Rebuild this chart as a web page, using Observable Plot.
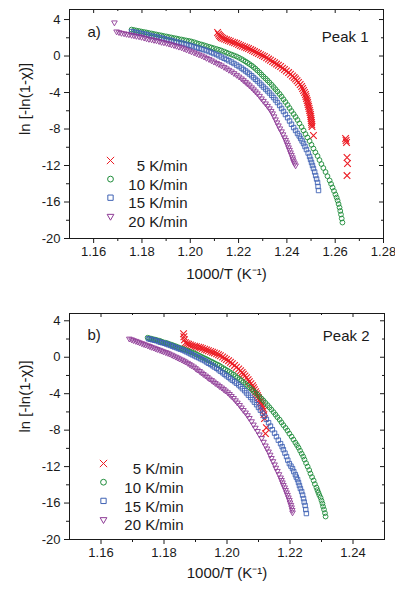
<!DOCTYPE html>
<html><head><meta charset="utf-8">
<script src="https://cdn.jsdelivr.net/npm/d3@7"></script>
<script src="https://cdn.jsdelivr.net/npm/@observablehq/plot@0.6"></script>
<style>
body{margin:0;background:#fff;}
#chart{width:395px;}
#chart svg{display:block;}
</style></head><body><div id="chart"></div>
<script>
// ---------- labels ----------
const rates = ["5 K/min", "10 K/min", "15 K/min", "20 K/min"];
const xLabel = "1000/T (K\u207B\u00B9)";
const yLabel = "ln [-ln(1-\u03C7)]";
const tagsA = ["a)", "Peak 1"];
const tagsB = ["b)", "Peak 2"];

// ---------- ticks ----------
const yMajor = [4, 0, -4, -8, -12, -16, -20];
const yMinor = [2, -2, -6, -10, -14, -18];
const xMajorA = [1.16, 1.18, 1.20, 1.22, 1.24, 1.26, 1.28];
const xMinorA = [1.17, 1.19, 1.21, 1.23, 1.25, 1.27];
const xMajorB = [1.16, 1.18, 1.20, 1.22, 1.24];
const xMinorB = [1.17, 1.19, 1.21, 1.23];

// ---------- panel a (Peak 1) ----------
const a5x = [1.2113,1.2117,1.2121,1.2125,1.2129,1.2135,1.2142,1.2150,1.2158,1.2166,
  1.2175,1.2183,1.2192,1.2200,1.2208,1.2216,1.2225,1.2233,1.2241,1.2250,
  1.2258,1.2266,1.2274,1.2282,1.2291,1.2299,1.2307,1.2316,1.2324,1.2332,
  1.2341,1.2349,1.2357,1.2365,1.2374,1.2382,1.2390,1.2398,1.2407,1.2415,
  1.2423,1.2430,1.2436,1.2442,1.2448,1.2455,1.2461,1.2465,1.2469,1.2473,
  1.2477,1.2479,1.2481,1.2484,1.2486,1.2488,1.2490,1.2492,1.2494,1.2496,
  1.2498,1.2499,1.2500,1.2501,1.2502,1.2503,1.2504,1.2510,
  1.2643,1.2645,1.2647,1.2649,1.2651,1.2649];
const a5y = [2.58,2.40,2.25,2.14,2.03,1.95,1.86,1.78,1.70,1.62,
  1.53,1.45,1.37,1.26,1.15,1.07,0.99,0.91,0.82,0.71,
  0.60,0.49,0.38,0.27,0.16,0.05,-0.05,-0.19,-0.33,-0.46,
  -0.60,-0.74,-0.88,-1.01,-1.15,-1.32,-1.48,-1.64,-1.81,-2.00,
  -2.19,-2.36,-2.52,-2.71,-2.90,-3.12,-3.34,-3.56,-3.78,-4.00,
  -4.22,-4.44,-4.66,-4.88,-5.10,-5.32,-5.53,-5.75,-5.97,-6.19,
  -6.41,-6.63,-6.85,-7.07,-7.29,-7.51,-7.73,-8.71,
  -9.04,-9.26,-9.48,-11.12,-11.78,-13.10];

const a10x = [1.1757,1.1767,1.1777,1.1788,1.1798,1.1809,1.1819,1.1829,1.1840,1.1850,
  1.1860,1.1871,1.1881,1.1891,1.1902,1.1912,1.1922,1.1933,1.1943,1.1953,
  1.1964,1.1974,1.1984,1.1995,1.2005,1.2016,1.2026,1.2036,1.2047,1.2057,
  1.2067,1.2078,1.2088,1.2098,1.2109,1.2119,1.2129,1.2140,1.2150,1.2160,
  1.2171,1.2181,1.2192,1.2202,1.2212,1.2220,1.2229,1.2237,1.2245,1.2254,
  1.2262,1.2270,1.2278,1.2287,1.2295,1.2303,1.2312,1.2320,1.2328,1.2337,
  1.2345,1.2353,1.2361,1.2370,1.2378,1.2386,1.2394,1.2403,1.2411,1.2419,
  1.2428,1.2436,1.2444,1.2452,1.2461,1.2469,1.2477,1.2485,1.2494,1.2502,
  1.2510,1.2518,1.2527,1.2535,1.2543,1.2551,1.2560,1.2568,1.2577,1.2583,
  1.2589,1.2595,1.2601,1.2606,1.2610,1.2614,1.2618,1.2621,1.2624,1.2627,1.2630];
const a10y = [2.90,2.85,2.79,2.74,2.68,2.63,2.58,2.52,2.47,2.41,
  2.36,2.30,2.25,2.19,2.14,2.08,2.03,1.97,1.92,1.86,
  1.81,1.75,1.70,1.65,1.59,1.51,1.42,1.34,1.26,1.18,
  1.10,1.01,0.93,0.85,0.77,0.69,0.60,0.49,0.38,0.27,
  0.16,0.06,-0.05,-0.19,-0.33,-0.46,-0.60,-0.74,-0.88,-1.04,
  -1.21,-1.39,-1.59,-1.80,-2.03,-2.25,-2.47,-2.68,-2.90,-3.15,
  -3.40,-3.64,-3.89,-4.16,-4.44,-4.74,-5.04,-5.37,-5.70,-6.03,
  -6.36,-6.68,-7.01,-7.39,-7.78,-8.16,-8.55,-8.93,-9.32,-9.73,
  -10.14,-10.55,-10.96,-11.40,-11.84,-12.27,-12.71,-13.17,-13.64,-14.02,
  -14.41,-14.79,-15.18,-15.51,-15.84,-16.22,-16.60,-16.98,-17.37,-17.81,-18.25];

const a15x = [1.1757,1.1767,1.1777,1.1788,1.1798,1.1809,1.1819,1.1829,1.1840,1.1850,
  1.1860,1.1871,1.1881,1.1891,1.1902,1.1912,1.1922,1.1933,1.1943,1.1953,
  1.1964,1.1974,1.1984,1.1995,1.2005,1.2016,1.2026,1.2036,1.2047,1.2057,
  1.2067,1.2078,1.2088,1.2098,1.2109,1.2119,1.2129,1.2140,1.2150,1.2160,
  1.2171,1.2181,1.2192,1.2202,1.2212,1.2220,1.2229,1.2237,1.2245,1.2254,
  1.2262,1.2270,1.2278,1.2287,1.2295,1.2303,1.2312,1.2320,1.2328,1.2337,
  1.2345,1.2353,1.2361,1.2370,1.2378,1.2386,1.2394,1.2403,1.2411,1.2419,
  1.2428,1.2436,1.2444,1.2451,1.2457,1.2463,1.2469,1.2475,1.2481,1.2488,
  1.2494,1.2498,1.2502,1.2506,1.2510,1.2515,1.2519,1.2523,1.2527,1.2529,1.2531];
const a15y = [2.68,2.63,2.58,2.52,2.47,2.41,2.36,2.28,2.19,2.14,
  2.08,2.03,1.97,1.89,1.81,1.75,1.70,1.62,1.53,1.48,
  1.42,1.34,1.26,1.18,1.10,1.01,0.93,0.85,0.77,0.69,
  0.60,0.49,0.38,0.27,0.16,0.03,-0.11,-0.25,-0.38,-0.52,
  -0.66,-0.82,-0.99,-1.15,-1.32,-1.48,-1.64,-1.80,-1.97,-2.16,
  -2.36,-2.55,-2.74,-2.96,-3.18,-3.40,-3.62,-3.83,-4.05,-4.30,
  -4.55,-4.82,-5.10,-5.42,-5.75,-6.08,-6.41,-6.76,-7.12,-7.48,
  -7.84,-8.16,-8.49,-8.76,-9.04,-9.31,-9.59,-9.92,-10.25,-10.63,
  -11.01,-11.34,-11.67,-12.00,-12.33,-12.71,-13.10,-13.48,-13.86,-14.30,-14.74];

const a20x = [1.1686,
  1.1695,1.1705,1.1715,1.1726,1.1736,1.1746,1.1757,1.1767,1.1777,1.1788,
  1.1798,1.1809,1.1819,1.1829,1.1840,1.1850,1.1860,1.1871,1.1881,1.1891,
  1.1902,1.1912,1.1922,1.1933,1.1943,1.1953,1.1964,1.1974,1.1984,1.1995,
  1.2005,1.2016,1.2026,1.2036,1.2047,1.2057,1.2067,1.2078,1.2088,1.2098,
  1.2109,1.2119,1.2129,1.2140,1.2150,1.2160,1.2171,1.2181,1.2192,1.2202,
  1.2212,1.2220,1.2229,1.2237,1.2245,1.2254,1.2262,1.2270,1.2278,1.2287,
  1.2295,1.2303,1.2312,1.2320,1.2328,1.2335,1.2341,1.2347,1.2353,1.2359,
  1.2365,1.2371,1.2378,1.2384,1.2390,1.2395,1.2399,1.2403,1.2407,1.2411,
  1.2415,1.2419,1.2423,1.2425,1.2428,1.2432,1.2436];
const a20y = [3.67,
  2.68,2.60,2.52,2.47,2.41,2.36,2.30,2.25,2.19,2.14,
  2.08,2.00,1.92,1.86,1.81,1.75,1.70,1.62,1.53,1.48,
  1.42,1.34,1.26,1.18,1.10,1.01,0.93,0.82,0.71,0.60,
  0.49,0.38,0.27,0.16,0.05,-0.08,-0.22,-0.35,-0.49,-0.63,
  -0.77,-0.90,-1.04,-1.21,-1.37,-1.53,-1.70,-1.89,-2.08,-2.27,
  -2.47,-2.66,-2.85,-3.04,-3.23,-3.45,-3.67,-3.89,-4.11,-4.38,
  -4.66,-4.93,-5.21,-5.48,-5.75,-6.03,-6.30,-6.63,-6.96,-7.29,
  -7.62,-7.95,-8.27,-8.60,-8.93,-9.21,-9.48,-9.75,-10.03,-10.30,
  -10.58,-10.85,-11.12,-11.34,-11.56,-11.78,-12.00];

// ---------- panel b (Peak 2) ----------
const b5x = [1.1862,1.1863,1.1865,1.1868,1.1873,1.1878,1.1884,1.1890,1.1897,1.1903,
  1.1910,1.1916,1.1922,1.1929,1.1935,1.1941,1.1948,1.1954,1.1960,1.1967,
  1.1973,1.1979,1.1986,1.1992,1.1998,1.2005,1.2011,1.2017,1.2024,1.2030,
  1.2037,1.2043,1.2048,1.2052,1.2057,1.2062,1.2067,1.2071,1.2076,1.2081,
  1.2084,1.2087,1.2091,1.2094,1.2097,1.2100,1.2103,1.2106,1.2109,1.2111,
  1.2114,1.2116,1.2117,1.2119,1.2125,1.2122];
const b5y = [2.58,2.25,1.92,1.59,1.50,1.42,1.34,1.26,1.21,1.15,
  1.10,1.04,0.96,0.88,0.80,0.71,0.63,0.55,0.47,0.38,
  0.27,0.16,0.03,-0.11,-0.25,-0.38,-0.55,-0.71,-0.90,-1.10,
  -1.29,-1.48,-1.67,-1.86,-2.05,-2.25,-2.46,-2.68,-2.90,-3.12,
  -3.34,-3.56,-3.78,-4.00,-4.22,-4.44,-4.66,-4.88,-5.10,-5.32,
  -5.59,-5.86,-6.30,-6.74,-7.73,-8.38];

const b10x = [1.1748,1.1754,1.1760,1.1767,1.1773,1.1779,1.1786,1.1792,1.1798,1.1805,
  1.1811,1.1817,1.1824,1.1830,1.1837,1.1843,1.1849,1.1856,1.1862,1.1868,
  1.1875,1.1881,1.1887,1.1894,1.1900,1.1906,1.1913,1.1919,1.1925,1.1932,
  1.1938,1.1944,1.1951,1.1957,1.1963,1.1970,1.1976,1.1982,1.1989,1.1995,
  1.2002,1.2008,1.2014,1.2021,1.2027,1.2033,1.2040,1.2046,1.2052,1.2059,
  1.2065,1.2071,1.2078,1.2084,1.2090,1.2097,1.2103,1.2110,1.2116,1.2122,
  1.2129,1.2135,1.2141,1.2148,1.2154,1.2160,1.2167,1.2173,1.2179,1.2186,
  1.2192,1.2198,1.2205,1.2211,1.2217,1.2222,1.2227,1.2232,1.2237,1.2242,
  1.2246,1.2251,1.2256,1.2261,1.2265,1.2270,1.2275,1.2279,1.2284,1.2287,
  1.2290,1.2293,1.2297,1.2300,1.2303,1.2305,1.2308,1.2311,1.2313];
const b10y = [2.14,2.08,2.03,1.97,1.92,1.86,1.81,1.72,1.64,1.59,
  1.53,1.45,1.37,1.29,1.21,1.12,1.04,0.96,0.88,0.80,
  0.71,0.63,0.55,0.47,0.38,0.27,0.16,0.05,-0.05,-0.16,
  -0.27,-0.38,-0.49,-0.60,-0.71,-0.82,-0.93,-1.07,-1.21,-1.34,
  -1.48,-1.61,-1.75,-1.91,-2.08,-2.25,-2.41,-2.58,-2.74,-2.93,
  -3.12,-3.31,-3.51,-3.70,-3.89,-4.11,-4.33,-4.55,-4.77,-5.01,
  -5.26,-5.50,-5.75,-6.03,-6.30,-6.58,-6.85,-7.15,-7.45,-7.75,
  -8.05,-8.38,-8.71,-9.04,-9.37,-9.64,-9.92,-10.25,-10.58,-10.90,
  -11.23,-11.62,-12.00,-12.38,-12.77,-13.15,-13.53,-13.92,-14.30,-14.58,
  -14.85,-15.12,-15.40,-15.73,-16.05,-16.38,-16.71,-17.10,-17.48];

const b15x = [1.1751,1.1757,1.1763,1.1770,1.1776,1.1783,1.1789,1.1795,1.1802,1.1808,
  1.1814,1.1821,1.1827,1.1833,1.1840,1.1846,1.1852,1.1859,1.1865,1.1871,
  1.1878,1.1884,1.1890,1.1897,1.1903,1.1910,1.1916,1.1922,1.1929,1.1935,
  1.1941,1.1948,1.1954,1.1960,1.1967,1.1973,1.1979,1.1986,1.1992,1.1998,
  1.2005,1.2011,1.2017,1.2024,1.2030,1.2037,1.2043,1.2049,1.2056,1.2062,
  1.2068,1.2075,1.2081,1.2087,1.2094,1.2100,1.2106,1.2113,1.2119,1.2125,
  1.2132,1.2138,1.2144,1.2151,1.2157,1.2163,1.2170,1.2175,1.2179,1.2184,
  1.2189,1.2193,1.2198,1.2203,1.2208,1.2212,1.2217,1.2220,1.2224,1.2227,
  1.2230,1.2233,1.2237,1.2240,1.2243,1.2245,1.2248,1.2250,1.2252];
const b15y = [2.03,1.97,1.92,1.86,1.81,1.72,1.64,1.59,1.53,1.45,
  1.37,1.29,1.21,1.12,1.04,0.96,0.88,0.80,0.71,0.60,
  0.49,0.38,0.27,0.16,0.05,-0.05,-0.16,-0.27,-0.38,-0.52,
  -0.66,-0.79,-0.93,-1.07,-1.21,-1.37,-1.53,-1.70,-1.86,-2.03,
  -2.19,-2.36,-2.52,-2.68,-2.85,-3.04,-3.23,-3.45,-3.67,-3.92,
  -4.16,-4.41,-4.66,-4.93,-5.21,-5.51,-5.81,-6.14,-6.47,-6.82,
  -7.18,-7.56,-7.95,-8.33,-8.71,-9.10,-9.48,-9.81,-10.14,-10.52,
  -10.90,-11.29,-11.67,-11.95,-12.22,-12.55,-12.88,-13.15,-13.42,-13.75,
  -14.08,-14.41,-14.74,-15.12,-15.51,-15.89,-16.27,-16.71,-17.15];

const b20x = [1.1690,1.1697,1.1703,1.1710,1.1716,1.1722,1.1729,1.1735,1.1741,1.1748,
  1.1754,1.1760,1.1767,1.1773,1.1779,1.1786,1.1792,1.1798,1.1805,1.1811,
  1.1817,1.1824,1.1830,1.1837,1.1843,1.1849,1.1856,1.1862,1.1868,1.1875,
  1.1881,1.1887,1.1894,1.1900,1.1906,1.1913,1.1919,1.1925,1.1932,1.1938,
  1.1944,1.1951,1.1957,1.1963,1.1970,1.1976,1.1983,1.1989,1.1995,1.2002,
  1.2008,1.2014,1.2021,1.2027,1.2033,1.2040,1.2046,1.2052,1.2059,1.2065,
  1.2071,1.2078,1.2084,1.2090,1.2097,1.2103,1.2110,1.2116,1.2122,1.2127,
  1.2132,1.2137,1.2141,1.2146,1.2151,1.2155,1.2160,1.2165,1.2170,1.2173,
  1.2176,1.2179,1.2183,1.2186,1.2189,1.2192,1.2195,1.2198,1.2200,1.2203,
  1.2205,1.2207,1.2208];
const b20y = [2.03,1.95,1.86,1.78,1.70,1.62,1.53,1.45,1.37,1.29,
  1.21,1.12,1.04,0.96,0.88,0.80,0.71,0.63,0.55,0.47,
  0.38,0.27,0.16,0.05,-0.05,-0.16,-0.27,-0.38,-0.49,-0.63,
  -0.77,-0.90,-1.04,-1.21,-1.37,-1.53,-1.70,-1.86,-2.03,-2.19,
  -2.36,-2.52,-2.68,-2.85,-3.01,-3.18,-3.34,-3.51,-3.67,-3.86,
  -4.05,-4.27,-4.49,-4.74,-4.99,-5.26,-5.53,-5.81,-6.08,-6.38,
  -6.68,-7.04,-7.40,-7.75,-8.11,-8.49,-8.88,-9.29,-9.70,-10.03,
  -10.36,-10.71,-11.07,-11.42,-11.78,-12.14,-12.49,-12.85,-13.21,-13.48,
  -13.75,-14.03,-14.30,-14.58,-14.85,-15.12,-15.40,-15.67,-15.95,-16.22,
  -16.49,-16.77,-17.04];

// ---------- styling ----------
const ink = "#1a1a1a";
const colors = ["#ec1c24", "#1e8c3a", "#3f62b4", "#8e3b96"];
const triangleDown = {
  draw(context, size) {
    const y = -Math.sqrt(size / (Math.sqrt(3) * 3));
    context.moveTo(0, -y * 2);
    context.lineTo(-Math.sqrt(3) * y, y);
    context.lineTo(Math.sqrt(3) * y, y);
    context.closePath();
  }
};
const symbols = ["times", "circle", "square", triangleDown];
const dotR = [3.1, 2.4, 2.5, 2.1];
const dotW = [1.1, 0.9, 0.9, 0.9];
const legR = [3.4, 2.9, 3.0, 2.5];

const toRows = (xs, ys) => xs.map((x, i) => ({x, y: ys[i]}));

function makePanel(cfg) {
  const W = 395;
  const plotW = W - cfg.ml - cfg.mr;
  const plotH = cfg.height - cfg.mt - cfg.mb;
  const marks = [
    Plot.axisX({ticks: cfg.xMajor, tickSize: 5, tickPadding: 3, tickFormat: d => d.toFixed(2), fontSize: 13, label: null, stroke: ink}),
    Plot.axisX({ticks: cfg.xMinor, tickSize: 3, tickFormat: () => "", label: null, stroke: ink}),
    Plot.axisY({ticks: yMajor, tickSize: 5, tickPadding: 4, tickFormat: d => String(d), fontSize: 13, label: null, stroke: ink}),
    Plot.axisY({ticks: yMinor, tickSize: 3, tickFormat: () => "", label: null, stroke: ink}),
    Plot.tickX(cfg.xMajor, {x: d => d, insetBottom: plotH - 4, stroke: ink}),
    Plot.tickX(cfg.xMinor, {x: d => d, insetBottom: plotH - 2, stroke: ink}),
    Plot.tickY(yMajor, {y: d => d, insetLeft: plotW - 4, stroke: ink}),
    Plot.tickY(yMinor, {y: d => d, insetLeft: plotW - 2, stroke: ink}),
    Plot.frame({stroke: ink})
  ];
  cfg.series.forEach((s, i) => {
    marks.push(Plot.dot(toRows(s[0], s[1]), {
      x: "x", y: "y", symbol: symbols[i], r: dotR[i], stroke: colors[i], fill: "none", strokeWidth: dotW[i]
    }));
  });
  rates.forEach((lab, i) => {
    marks.push(Plot.dot([lab], {frameAnchor: "top-left", dx: cfg.legDx, dy: cfg.legDy + i * cfg.legGap,
      symbol: symbols[i], r: legR[i], stroke: colors[i], fill: "none", strokeWidth: 1}));
    marks.push(Plot.text([lab], {frameAnchor: "top-left", dx: cfg.legTx, dy: cfg.legDy + i * cfg.legGap,
      textAnchor: "end", fontSize: 15, fill: ink}));
  });
  marks.push(Plot.text([cfg.tags[0]], {frameAnchor: "top-left", dx: 18, dy: cfg.tagDy, textAnchor: "start", fontSize: 15, fill: ink}));
  marks.push(Plot.text([cfg.tags[1]], {frameAnchor: "top-right", dx: -15, dy: cfg.peakDy, textAnchor: "end", fontSize: 15, fill: ink}));
  marks.push(Plot.text([xLabel], {frameAnchor: "bottom", dy: cfg.xlDy, fontSize: 15, fill: ink}));
  marks.push(Plot.text([yLabel], {frameAnchor: "left", dx: -44, dy: cfg.ylDy, rotate: -90, fontSize: 15, fill: ink}));
  return Plot.plot({
    width: W, height: cfg.height,
    marginLeft: cfg.ml, marginRight: cfg.mr, marginTop: cfg.mt, marginBottom: cfg.mb,
    x: {domain: cfg.xDomain},
    y: {domain: cfg.yDomain},
    style: {fontFamily: "'Liberation Sans', Arial, sans-serif", fontSize: "13px", color: ink, background: "#fff"},
    marks
  });
}

const chart = document.getElementById("chart");
chart.append(makePanel({
  height: 290, ml: 69, mr: 12, mt: 9, mb: 52,
  xDomain: [1.15, 1.28], yDomain: [-20, 5.1],
  xMajor: xMajorA, xMinor: xMinorA,
  series: [[a5x, a5y], [a10x, a10y], [a15x, a15y], [a20x, a20y]],
  legDx: 41, legTx: 118, legDy: 151, legGap: 18.6,
  tags: tagsA, tagDy: 17, peakDy: 22, xlDy: 40, ylDy: 11
}));
chart.append(makePanel({
  height: 303, ml: 69, mr: 11, mt: 23, mb: 54,
  xDomain: [1.15, 1.25], yDomain: [-20, 4.8],
  xMajor: xMajorB, xMinor: xMinorB,
  series: [[b5x, b5y], [b10x, b10y], [b15x, b15y], [b20x, b20y]],
  legDx: 34, legTx: 114, legDy: 150, legGap: 18.7,
  tags: tagsB, tagDy: 16, peakDy: 17, xlDy: 38, ylDy: 6
}));
</script>
</body></html>
